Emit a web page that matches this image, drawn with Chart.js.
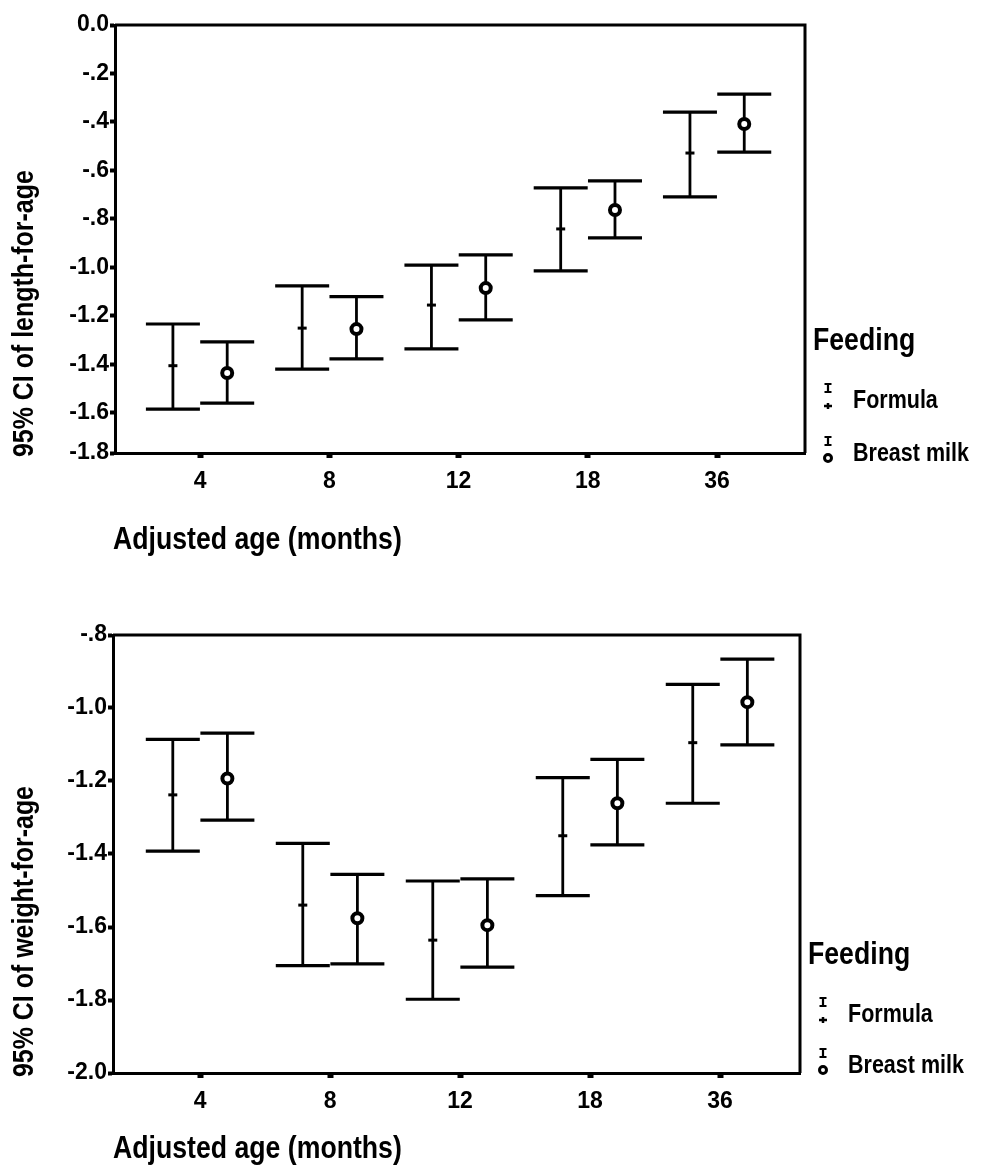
<!DOCTYPE html>
<html><head><meta charset="utf-8">
<script src="https://cdn.jsdelivr.net/npm/chart.js@4.4.0/dist/chart.umd.min.js"></script>
<style>
html,body{margin:0;padding:0;background:#fff;width:991px;height:1169px;overflow:hidden;position:relative;}
canvas{position:absolute;left:0;display:block;}
#c1{top:0;}
#c2{top:580px;}
</style></head><body>
<canvas id="c1" width="991" height="580" style="width:991px;height:580px"></canvas>
<canvas id="c2" width="991" height="589" style="width:991px;height:589px"></canvas>
<script>
// ---------- data ----------
const categories = ['4', '8', '12', '18', '36'];
const seriesNames = ['Formula', 'Breast milk'];
const legendTitle = 'Feeding';
const xTitle = 'Adjusted age (months)';

// length-for-age (top panel)
const lengthFormulaMean = [-1.405, -1.250, -1.155, -0.841, -0.528];
const lengthFormulaLow  = [-1.584, -1.419, -1.336, -1.014, -0.709];
const lengthFormulaHigh = [-1.233, -1.076, -0.990, -0.672, -0.359];
const lengthBreastMean  = [-1.435, -1.254, -1.085, -0.763, -0.408];
const lengthBreastLow   = [-1.559, -1.377, -1.216, -0.878, -0.524];
const lengthBreastHigh  = [-1.307, -1.120, -0.948, -0.643, -0.285];
const lengthTicks = [-1.765, -1.6, -1.4, -1.2, -1.0, -0.8, -0.6, -0.4, -0.2, 0];

// weight-for-age (bottom panel)
const weightFormulaMean = [-1.238, -1.540, -1.636, -1.350, -1.095];
const weightFormulaLow  = [-1.392, -1.706, -1.798, -1.514, -1.261];
const weightFormulaHigh = [-1.086, -1.371, -1.474, -1.191, -0.935];
const weightBreastMean  = [-1.193, -1.576, -1.595, -1.261, -0.984];
const weightBreastLow   = [-1.307, -1.701, -1.710, -1.375, -1.101];
const weightBreastHigh  = [-1.069, -1.456, -1.468, -1.141, -0.866];
const weightTicks = [-2.0, -1.8, -1.6, -1.4, -1.2, -1.0, -0.8];

// ---------- styling ----------
const FAMILY = "'Liberation Sans', Arial, Helvetica, sans-serif";
const SQUEEZE = 0.86;
const DODGE = 0.21;
const CAP_HALF = 27;
Chart.defaults.font.family = FAMILY;
Chart.defaults.color = '#000';

function fmtTick(v) {
  if (Math.abs(v) < 1e-9) return '0.0';
  let s = Math.abs(v).toFixed(1);
  if (s.startsWith('0')) s = s.slice(1);
  return (v < 0 ? '-' : '') + s;
}

function squeezedText(ctx, text, x, y, font, align, baseline, rotate) {
  ctx.save();
  ctx.font = font;
  ctx.fillStyle = '#000';
  ctx.translate(x, y);
  if (rotate) ctx.rotate(-Math.PI / 2);
  ctx.scale(SQUEEZE, 1);
  ctx.textAlign = align;
  ctx.textBaseline = baseline;
  ctx.fillText(text, 0, 0);
  ctx.restore();
}

const errorBarPlugin = {
  id: 'errorBars',
  beforeDatasetsDraw(chart) {
    const ctx = chart.ctx, ys = chart.scales.y;
    chart.data.datasets.forEach((ds, di) => {
      const meta = chart.getDatasetMeta(di);
      meta.data.forEach((pt, j) => {
        const x = pt.x;
        const yl = ys.getPixelForValue(ds.errLow[j]);
        const yh = ys.getPixelForValue(ds.errHigh[j]);
        ctx.save();
        ctx.strokeStyle = '#000';
        ctx.lineWidth = 2.8;
        ctx.beginPath(); ctx.moveTo(x, yl); ctx.lineTo(x, yh); ctx.stroke();
        ctx.lineWidth = 3.2;
        ctx.beginPath();
        ctx.moveTo(x - CAP_HALF, yh); ctx.lineTo(x + CAP_HALF, yh);
        ctx.moveTo(x - CAP_HALF, yl); ctx.lineTo(x + CAP_HALF, yl);
        ctx.stroke();
        ctx.restore();
      });
    });
  }
};

const decorPlugin = {
  id: 'decor',
  afterDraw(chart, args, opts) {
    const ctx = chart.ctx, a = chart.chartArea;
    // top and right frame
    ctx.save();
    ctx.strokeStyle = '#000';
    ctx.lineWidth = 3;
    ctx.beginPath();
    ctx.moveTo(a.left, a.top); ctx.lineTo(a.right, a.top); ctx.lineTo(a.right, a.bottom);
    ctx.stroke();
    ctx.restore();
    // y title
    squeezedText(ctx, opts.yTitle, 25, a.bottom + 4, "bold 29px " + FAMILY, 'left', 'middle', true);
    // x title
    squeezedText(ctx, xTitle, 113, opts.xTitleY, "bold 31px " + FAMILY, 'left', 'alphabetic', false);
    // legend
    const lx = a.right + 8;
    squeezedText(ctx, legendTitle, lx, opts.legendY[0], "bold 31px " + FAMILY, 'left', 'middle', false);
    const ix = a.right + 23, tx = a.right + 48;
    seriesNames.forEach((name, k) => {
      const y = opts.legendY[k + 1];
      squeezedText(ctx, name, tx, y, "bold 25px " + FAMILY, 'left', 'middle', false);
      ctx.save();
      ctx.strokeStyle = '#000';
      ctx.lineWidth = 2.2;
      const t = y - 17, b = y - 9;
      ctx.beginPath();
      ctx.moveTo(ix - 3.5, t); ctx.lineTo(ix + 3.5, t);
      ctx.moveTo(ix, t); ctx.lineTo(ix, b);
      ctx.moveTo(ix - 3.5, b); ctx.lineTo(ix + 3.5, b);
      ctx.stroke();
      if (k === 0) {
        ctx.lineWidth = 2.5;
        ctx.beginPath();
        ctx.moveTo(ix - 4, y + 5); ctx.lineTo(ix + 4, y + 5);
        ctx.moveTo(ix, y + 2); ctx.lineTo(ix, y + 8);
        ctx.stroke();
      } else {
        ctx.lineWidth = 3;
        ctx.beginPath();
        ctx.arc(ix, y + 4, 3.5, 0, Math.PI * 2);
        ctx.stroke();
      }
      ctx.restore();
    });
  }
};

function makeChart(canvas, c) {
  const datasets = [
    {
      label: seriesNames[0],
      data: c.fMean.map((v, i) => ({ x: i - DODGE, y: v })),
      errLow: c.fLow, errHigh: c.fHigh,
      pointStyle: 'line', pointRadius: 4.5, pointBorderWidth: 3,
      borderColor: '#000', backgroundColor: '#000', showLine: false
    },
    {
      label: seriesNames[1],
      data: c.bMean.map((v, i) => ({ x: i + DODGE, y: v })),
      errLow: c.bLow, errHigh: c.bHigh,
      pointStyle: 'circle', pointRadius: 5, pointBorderWidth: 4,
      borderColor: '#000', backgroundColor: '#fff', showLine: false
    }
  ];
  return new Chart(canvas, {
    type: 'scatter',
    data: { datasets },
    plugins: [errorBarPlugin, decorPlugin],
    options: {
      responsive: false,
      animation: false,
      devicePixelRatio: 1,
      events: [],
      layout: { padding: c.padding },
      plugins: {
        legend: { display: false },
        tooltip: { enabled: false },
        decor: { yTitle: c.yTitle, xTitleY: c.xTitleY, legendY: c.legendY }
      },
      scales: {
        x: {
          type: 'linear', min: c.xMin, max: c.xMax,
          afterBuildTicks: s => { s.ticks = categories.map((_, i) => ({ value: i })); },
          afterFit: s => { s.height = 60; },
          ticks: {
            callback: v => categories[v],
            font: { size: 23, weight: 'bold' }, color: '#000',
            padding: 10, autoSkip: false, maxRotation: 0
          },
          grid: { display: true, drawOnChartArea: false, drawTicks: true, tickLength: 5, tickWidth: 6, tickColor: '#000' },
          border: { display: true, color: '#000', width: 3 }
        },
        y: {
          type: 'linear', min: c.yMin, max: c.yMax,
          afterBuildTicks: s => { s.ticks = c.yTicks.map(v => ({ value: v })); },
          afterFit: s => { s.width = c.axisW; },
          ticks: {
            callback: v => fmtTick(v),
            font: { size: 23, weight: 'bold' }, color: '#000',
            padding: 1, autoSkip: false
          },
          grid: { display: true, drawOnChartArea: false, drawTicks: true, tickLength: 5, tickWidth: 4, tickColor: '#000' },
          border: { display: true, color: '#000', width: 3 }
        }
      }
    }
  });
}

makeChart(document.getElementById('c1'), {
  fMean: lengthFormulaMean, fLow: lengthFormulaLow, fHigh: lengthFormulaHigh,
  bMean: lengthBreastMean, bLow: lengthBreastLow, bHigh: lengthBreastHigh,
  yTicks: lengthTicks, yMin: -1.765, yMax: 0,
  xMin: -0.658, xMax: 4.68,
  axisW: 115,
  padding: { top: 25, right: 186, bottom: 67, left: 0 },
  yTitle: '95% CI of length-for-age',
  xTitleY: 549,
  legendY: [341, 401, 454]
});

makeChart(document.getElementById('c2'), {
  fMean: weightFormulaMean, fLow: weightFormulaLow, fHigh: weightFormulaHigh,
  bMean: weightBreastMean, bLow: weightBreastLow, bHigh: weightBreastHigh,
  yTicks: weightTicks, yMin: -2.0, yMax: -0.8,
  xMin: -0.67, xMax: 4.615,
  axisW: 113,
  padding: { top: 55, right: 191, bottom: 36, left: 0 },
  yTitle: '95% CI of weight-for-age',
  xTitleY: 578,
  legendY: [375, 435, 486]
});
</script>
</body></html>
